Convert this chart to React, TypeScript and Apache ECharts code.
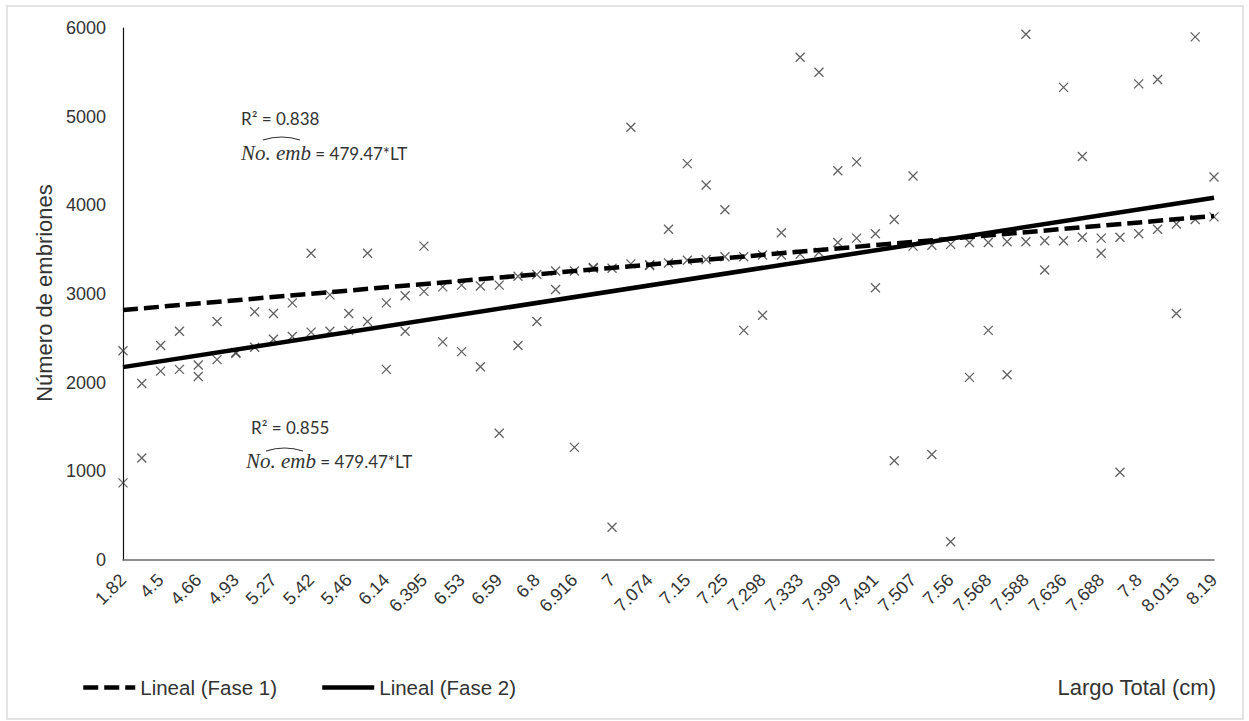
import React, { useEffect, useRef } from "react";
import * as echarts from "echarts";

// Tick labels shown on the x axis (one on every second slot)
const X_TICK_LABELS = [
  "1.82", "4.5", "4.66", "4.93", "5.27", "5.42", "5.46", "6.14", "6.395", "6.53",
  "6.59", "6.8", "6.916", "7", "7.074", "7.15", "7.25", "7.298", "7.333", "7.399",
  "7.491", "7.507", "7.56", "7.568", "7.588", "7.636", "7.688", "7.8", "8.015", "8.19",
];

// Number of embryos per fish, in x-axis slot order
const FASE_1 = [
  2360, 1990, 2130, 2150, 2200, 2260, 2330, 2400, 2490, 2520,
  2570, 2580, 2590, 2690, 2900, 2980, 3030, 3080, 3100, 3090,
  3100, 3200, 3220, 3260, 3260, 3290, 3290, 3340, 3330, 3350,
  3380, 3390, 3420, 3420, 3440, 3440, 3450, 3470, 3580, 3630,
  3680, 3840, 3540, 3550, 3560, 3580, 3580, 3590, 3590, 3600,
  3600, 3640, 3630, 3640, 3680, 3730, 3790, 3840, 3870,
];
const FASE_2 = [
  870, 1150, 2420, 2580, 2070, 2690, 2340, 2800, 2780, 2900,
  3460, 2990, 2780, 3460, 2150, 2580, 3540, 2460, 2350, 2180,
  1430, 2420, 2690, 3050, 1270, 3300, 370, 4880, 3320, 3730,
  4470, 4230, 3950, 2590, 2760, 3690, 5670, 5500, 4390, 4490,
  3070, 1120, 4330, 1190, 205, 2060, 2590, 2090, 5930, 3270,
  5330, 4550, 3460, 990, 5370, 5420, 2780, 5900, 4320,
];

// Linear trend lines: value at the first and at the last slot
const TREND_FASE_1 = [2820, 3880];
const TREND_FASE_2 = [2175, 4085];

const Y_TICKS = { min: 0, max: 6000, step: 1000 };

const TEXT = "#333333";
const SANS = "'Liberation Sans', Arial, sans-serif";
const NOTE = "Lato, 'Noto Sans', sans-serif";
const MATH = "'Liberation Serif', 'DejaVu Serif', serif";

const CROSS = "path://M0 0L10 10M10 0L0 10";

function App() {
  const ref = useRef<HTMLDivElement>(null);

  useEffect(() => {
    if (!ref.current) return;
    const chart = echarts.init(ref.current, null, { renderer: "svg" });
    const last = FASE_1.length - 1;

    const points = (vals: number[]) => vals.map((v, i) => [i, v]);
    const trend = (ends: number[]) => [
      [0, ends[0]],
      [last, ends[1]],
    ];

    const r2Note = (x: number, yMid: number, r2: string) => ({
      type: "text",
      x,
      y: yMid,
      style: {
        text: `R² = ${r2}`,
        font: `17px ${NOTE}`,
        fill: TEXT,
        verticalAlign: "middle",
      },
    });

    const equation = (x: number, yMid: number) => ({
      type: "text",
      x,
      y: yMid,
      style: {
        text: "{i|No. emb}{n| = 479.47*LT}",
        verticalAlign: "middle",
        rich: {
          i: { fontFamily: MATH, fontStyle: "italic", fontSize: 21, fill: TEXT },
          n: { fontFamily: NOTE, fontSize: 17, fill: TEXT },
        },
      },
    });

    const hat = (x1: number, x2: number, y: number) => ({
      type: "bezierCurve",
      shape: { x1, y1: y, x2, y2: y, cpx1: (x1 + x2) / 2, cpy1: y - 6 },
      style: { stroke: TEXT, lineWidth: 1.2, fill: "none" },
    });

    chart.setOption({
      animation: false,
      backgroundColor: "#ffffff",
      grid: { left: 123, right: 35, top: 28, bottom: 161, containLabel: false },
      xAxis: {
        type: "value",
        min: 0,
        max: last,
        interval: 2,
        splitLine: { show: false },
        axisTick: { show: false },
        axisLine: { show: true, lineStyle: { color: "#6b6b6b", width: 1.6 } },
        axisLabel: {
          rotate: 45,
          margin: 17,
          fontSize: 18,
          fontFamily: SANS,
          color: TEXT,
          showMinLabel: true,
          showMaxLabel: true,
          formatter: (v: number) => X_TICK_LABELS[Math.round(v / 2)] ?? "",
        },
      },
      yAxis: {
        type: "value",
        min: Y_TICKS.min,
        max: Y_TICKS.max,
        interval: Y_TICKS.step,
        splitLine: { show: false },
        axisTick: { show: false },
        axisLine: { show: true, lineStyle: { color: "#111111", width: 1.2 } },
        axisLabel: {
          margin: 17,
          fontSize: 18,
          fontFamily: SANS,
          color: TEXT,
          formatter: (v: number) => String(v),
        },
      },
      legend: {
        data: ["Lineal (Fase 1)", "Lineal (Fase 2)"],
        left: 81,
        top: 677,
        padding: 0,
        itemWidth: 52,
        itemHeight: 14,
        itemGap: 43,
        selectedMode: false,
        itemStyle: { opacity: 0 },
        lineStyle: { width: 4.5 },
        textStyle: { fontSize: 20.5, fontFamily: SANS, color: TEXT },
      },
      series: [
        {
          name: "Fase 1",
          type: "scatter",
          data: points(FASE_1),
          symbol: CROSS,
          symbolSize: 9,
          silent: true,
          itemStyle: { color: "rgba(0,0,0,0)", borderColor: "#3a3a3a", borderWidth: 1.3 },
        },
        {
          name: "Fase 2",
          type: "scatter",
          data: points(FASE_2),
          symbol: CROSS,
          symbolSize: 9,
          silent: true,
          itemStyle: { color: "rgba(0,0,0,0)", borderColor: "#3a3a3a", borderWidth: 1.3 },
        },
        {
          name: "Lineal (Fase 1)",
          type: "line",
          data: trend(TREND_FASE_1),
          symbol: "none",
          silent: true,
          z: 3,
          itemStyle: { color: "#000000" },
          lineStyle: { color: "#000000", width: 4.5, type: [15, 6] },
        },
        {
          name: "Lineal (Fase 2)",
          type: "line",
          data: trend(TREND_FASE_2),
          symbol: "none",
          silent: true,
          z: 3,
          itemStyle: { color: "#000000" },
          lineStyle: { color: "#000000", width: 4.5, type: "solid" },
        },
      ],
      graphic: [
        {
          type: "rect",
          shape: { x: 7, y: 6, width: 1236, height: 713 },
          style: { fill: "none", stroke: "#dadada", lineWidth: 1.5 },
          silent: true,
        },
        {
          type: "text",
          x: 44,
          y: 293,
          rotation: Math.PI / 2,
          style: {
            text: "Número de embriones",
            font: `22px ${SANS}`,
            fill: TEXT,
            align: "center",
            verticalAlign: "middle",
          },
        },
        {
          type: "text",
          x: 1216,
          y: 687,
          style: {
            text: "Largo Total (cm)",
            font: `22px ${SANS}`,
            fill: TEXT,
            align: "right",
            verticalAlign: "middle",
          },
        },
        r2Note(241, 118, "0.838"),
        equation(241, 153),
        hat(263, 300, 140),
        r2Note(251, 427, "0.855"),
        equation(246, 461),
        hat(266, 303, 451),
      ],
    });

    return () => chart.dispose();
  }, []);

  return (
    <div
      ref={ref}
      style={{ position: "absolute", left: 0, top: 0, width: 1249, height: 721 }}
    />
  );
}

export default App;
